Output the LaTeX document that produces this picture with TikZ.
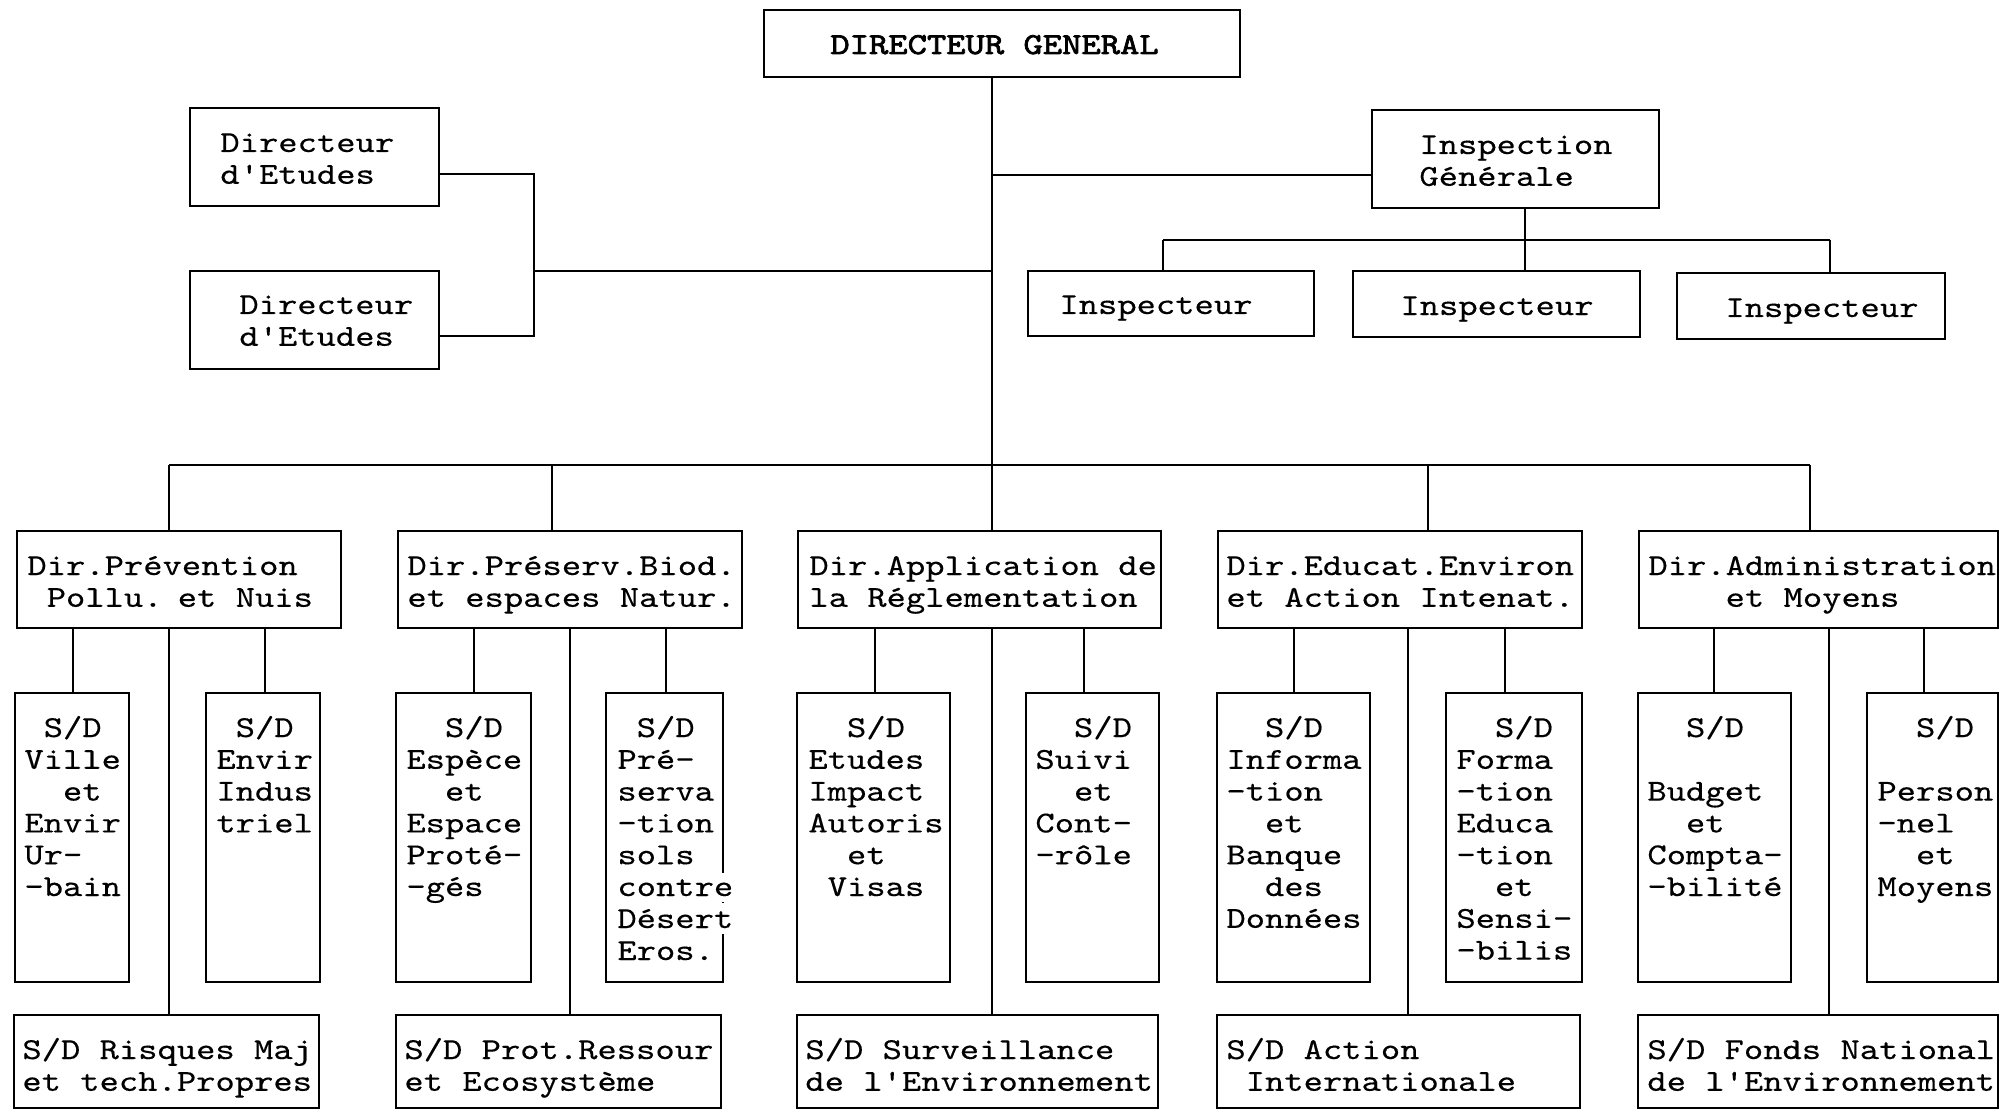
\documentclass[tikz,border=0pt]{standalone}
\usepackage{fontspec}
\setmonofont{lmmono10-regular.otf}[FakeStretch=1.21, FakeBold=0.3]
\newfontfamily\dgfont{lmmono10-regular.otf}[FakeStretch=1.21, FakeBold=2.4]
% indent by n monospace characters
\newlength\chw
\newcommand\ind[1]{\settowidth\chw{x}\hspace*{#1\chw}}
% make an interword space exactly one character wide
\newcommand\monospace{\settowidth\chw{x}\spaceskip=\chw\relax}
% a drawn box from its corners (x1,y1)-(x2,y2), in pixel units
\newcommand\orgbox[5]{\node[box, minimum width={(#4-#2)*0.5pt}, minimum height={(#5-#3)*0.5pt}] (#1) at ({(#2+#4)/2},{(#3+#5)/2}) {};}
\AtBeginDocument{\lineskiplimit=-100pt\relax}
\begin{document}
\begin{tikzpicture}[x=0.5pt, y=-0.5pt,
  box/.style={draw, rectangle, line width=1.3pt, inner sep=0pt, outer sep=0pt},
  wire/.style={line width=1.1pt},
  mono/.style={font=\ttfamily\fontsize{15.2}{15.9}\selectfont, execute at begin node=\monospace},
  txt/.style={mono, inner sep=0pt, text width=200pt, align=left, anchor=base west},
  txt1/.style={mono, inner sep=0pt, anchor=base west}]
\fill[white] (0,0) rectangle (2000,1112);
\useasboundingbox (0,0) rectangle (2000,1112);

% ---------- boxes ----------
\orgbox{dg}{764}{10}{1240}{77}
\orgbox{de1}{190}{108}{439}{206}
\orgbox{de2}{190}{271}{439}{369}
\orgbox{ig}{1372}{110}{1659}{208}
\orgbox{in1}{1028}{271}{1314}{336}
\orgbox{in2}{1353}{271}{1640}{337}
\orgbox{in3}{1677}{273}{1945}{339}

\orgbox{d1}{17}{531}{341}{628}
\orgbox{d2}{398}{531}{742}{628}
\orgbox{d3}{798}{531}{1161}{628}
\orgbox{d4}{1218}{531}{1582}{628}
\orgbox{d5}{1639}{531}{1998}{628}

\orgbox{sa1}{15}{693}{129}{982}
\orgbox{sb1}{206}{693}{320}{982}
\orgbox{sa2}{396}{693}{531}{982}
\orgbox{sb2}{606}{693}{723}{982}
\orgbox{sa3}{797}{693}{950}{982}
\orgbox{sb3}{1026}{693}{1159}{982}
\orgbox{sa4}{1217}{693}{1370}{982}
\orgbox{sb4}{1446}{693}{1582}{982}
\orgbox{sa5}{1638}{693}{1791}{982}
\orgbox{sb5}{1867}{693}{1998}{982}

\orgbox{sc1}{14}{1015}{319}{1108}
\orgbox{sc2}{396}{1015}{721}{1108}
\orgbox{sc3}{797}{1015}{1158}{1108}
\orgbox{sc4}{1217}{1015}{1580}{1108}
\orgbox{sc5}{1638}{1015}{1998}{1108}

% ---------- connectors ----------
\coordinate (trunk) at (992,465);
\draw[wire] (dg.south -| trunk) -- (trunk) -- (d3.north -| trunk);

% directeurs d'etudes
\coordinate (e1) at (534,174);
\coordinate (e2) at (534,336);
\coordinate (e0) at (534,271);
\draw[wire] (de1.east |- e1) -- (e1) -- (e2) -- (de2.east |- e2);
\draw[wire] (e0) -- (e0 -| trunk);

% inspection generale
\coordinate (g0) at (992,175);
\draw[wire] (g0) -- (ig.west |- g0);
\coordinate (iq) at (1525,240);
\coordinate (iq1) at (1163,240);
\coordinate (iq3) at (1830,240);
\draw[wire] (ig.south -| iq) -- (iq);
\draw[wire] (iq1) -- (iq3);
\draw[wire] (iq1) -- (in1.north -| iq1);
\draw[wire] (iq) -- (in2.north -| iq);
\draw[wire] (iq3) -- (in3.north -| iq3);

% directions bus
\coordinate (b1) at (169,465);
\coordinate (b2) at (552,465);
\coordinate (b4) at (1428,465);
\coordinate (b5) at (1810,465);
\draw[wire] (b1) -- (b5);
\draw[wire] (b1) -- (d1.north -| b1);
\draw[wire] (b2) -- (d2.north -| b2);
\draw[wire] (b4) -- (d4.north -| b4);
\draw[wire] (b5) -- (d5.north -| b5);

% sous-directions
\foreach \i/\l/\m/\r in {1/73/169/265, 2/474/570/666, 3/875/992/1084, 4/1294/1408/1505, 5/1714/1829/1924}{
  \coordinate (xl\i) at (\l,0);
  \coordinate (xm\i) at (\m,0);
  \coordinate (xr\i) at (\r,0);
  \draw[wire] (d\i.south -| xl\i) -- (sa\i.north -| xl\i);
  \draw[wire] (d\i.south -| xm\i) -- (sc\i.north -| xm\i);
  \draw[wire] (d\i.south -| xr\i) -- (sb\i.north -| xr\i);
}

% ---------- texts ----------
\node[txt1, font=\dgfont\fontsize{15.2}{16}\selectfont] (t-dg) at (830,54) {DIRECTEUR GENERAL};
\node[txt] (t-de1) at (220,152) {Directeur\\d'Etudes};
\node[txt] (t-de2) at (239,314) {Directeur\\d'Etudes};
\node[txt] (t-ig) at (1419,154) {Inspection\\Générale};
\node[txt1] (t-in1) at (1059,314) {Inspecteur};
\node[txt1] (t-in2) at (1400,315) {Inspecteur};
\node[txt1] (t-in3) at (1725,317) {Inspecteur};

\node[txt] (t-d1) at (27,575) {Dir.Prévention\\\ind1Pollu. et Nuis};
\node[txt] (t-d2) at (407,575) {Dir.Préserv.Biod.\\et espaces Natur.};
\node[txt] (t-d3) at (809,575) {Dir.Application de\\la Réglementation};
\node[txt] (t-d4) at (1226,575) {Dir.Educat.Environ\\et Action Intenat.};
\node[txt] (t-d5) at (1648,575) {Dir.Administration\\\ind4et Moyens};

\node[txt] (t-sa1) at (24,737) {\ind1S/D\\Ville\\\ind2et\\Envir\\Ur-\\-bain};
\node[txt] (t-sb1) at (216,737) {\ind1S/D\\Envir\\Indus\\triel};
\node[txt] (t-sa2) at (406,737) {\ind2S/D\\Espèce\\\ind2et\\Espace\\Proté-\\-gés};
\node[txt] (t-sb2) at (617,737) {\ind1S/D\\Pré-\\serva\\-tion\\sols};
\node[txt1, fill=white, inner ysep=3pt] (t-sb2b) at (617,896) {contre};
\node[txt1, fill=white, inner ysep=3pt] (t-sb2c) at (617,928) {Désert};
\node[txt1] (t-sb2d) at (617,960) {Eros.};
\node[txt] (t-sa3) at (808,737) {\ind2S/D\\Etudes\\Impact\\Autoris\\\ind2et\\\ind1Visas};
\node[txt] (t-sb3) at (1035,737) {\ind2S/D\\Suivi\\\ind2et\\Cont-\\-rôle};
\node[txt] (t-sa4) at (1226,737) {\ind2S/D\\Informa\\-tion\\\ind2et\\Banque\\\ind2des\\Données};
\node[txt] (t-sb4) at (1456,737) {\ind2S/D\\Forma\\-tion\\Educa\\-tion\\\ind2et\\Sensi-\\-bilis};
\node[txt] (t-sa5) at (1647,737) {\ind2S/D\\\mbox{}\\Budget\\\ind2et\\Compta-\\-bilité};
\node[txt] (t-sb5) at (1877,737) {\ind2S/D\\\mbox{}\\Person\\-nel\\\ind2et\\Moyens};

\node[txt] (t-sc1) at (22,1059) {S/D Risques Maj\\et tech.Propres};
\node[txt] (t-sc2) at (404,1059) {S/D Prot.Ressour\\et Ecosystème};
\node[txt] (t-sc3) at (805,1059) {S/D Surveillance\\de l'Environnement};
\node[txt] (t-sc4) at (1226,1059) {S/D Action\\\ind1Internationale};
\node[txt] (t-sc5) at (1647,1059) {S/D Fonds National\\de l'Environnement};
\end{tikzpicture}
\end{document}
